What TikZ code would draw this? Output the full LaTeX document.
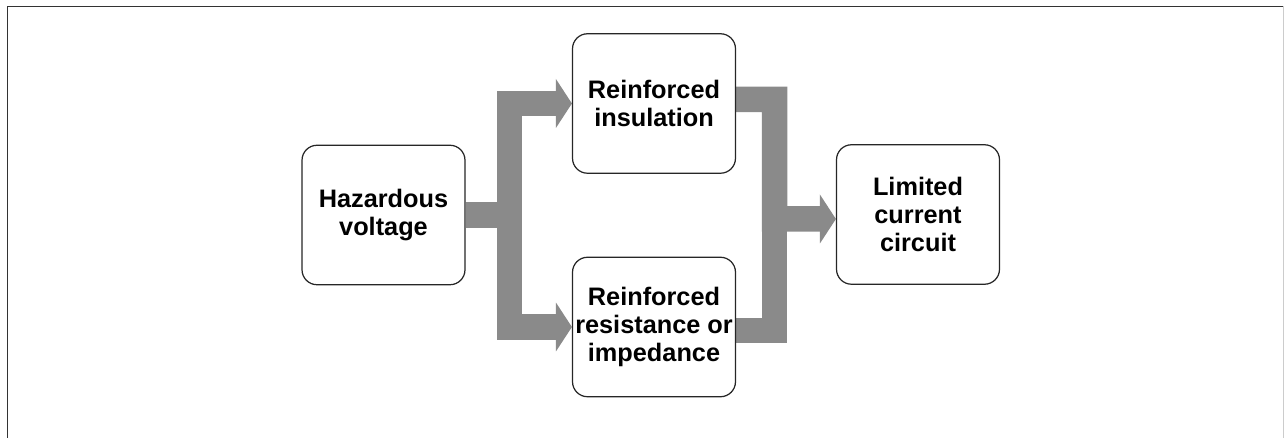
\documentclass[tikz,border=0pt]{standalone}
\usepackage{fontspec}
\setmainfont{Liberation Sans}
\usepackage{xcolor}
\usetikzlibrary{arrows.meta, positioning, backgrounds}

\definecolor{flowgray}{HTML}{8A8A8A}

\begin{document}
\begin{tikzpicture}[
    x=0.02cm, y=-0.02cm,
    blockbox/.style={draw=black!85, line width=0.7pt, rounded corners=0.3cm, fill=white,
        minimum width=3.26cm, minimum height=2.79cm, inner sep=1pt, align=center,
        font=\fontsize{14.4}{16}\selectfont\bfseries},
    fatline/.style={draw=flowgray, line width=0.51cm},
    fatarr/.style={fatline, -{Triangle[length=0.32cm, width=0.98cm, line width=0pt]}}
]
\useasboundingbox (0,0) rectangle (1284,438);

% Frame
\draw[line width=0.03cm, black!80] (7.5,438) -- (7.5,6.5) -- (1283,6.5);
\draw[line width=0.02cm, black!20] (1283,6.5) -- (1283,438);

% Blocks
\node[blockbox] (haz) at (383.5,215) {Hazardous\\voltage};
\node[blockbox] (ins) at (654,103.5) {Reinforced\\insulation};
\node[blockbox] (imp) at (654,327) {Reinforced\\resistance or\\impedance};
\node[blockbox] (lim) at (918,214.5) {Limited\\current\\circuit};

\coordinate (split) at (509.5,215);
\coordinate (merge) at (774.5,219);

% Fat arrows
\begin{scope}[on background layer]
\draw[fatarr] (haz.east) -- (split) |- (ins.west);
\draw[fatarr] (haz.east) -- (split) |- (imp.west);
\draw[fatarr] ([yshift=0.08cm]ins.east) -| (merge) -- ([yshift=-0.09cm]lim.west);
\draw[fatline] ([yshift=-0.07cm]imp.east) -| (merge);
\end{scope}

\end{tikzpicture}
\end{document}
